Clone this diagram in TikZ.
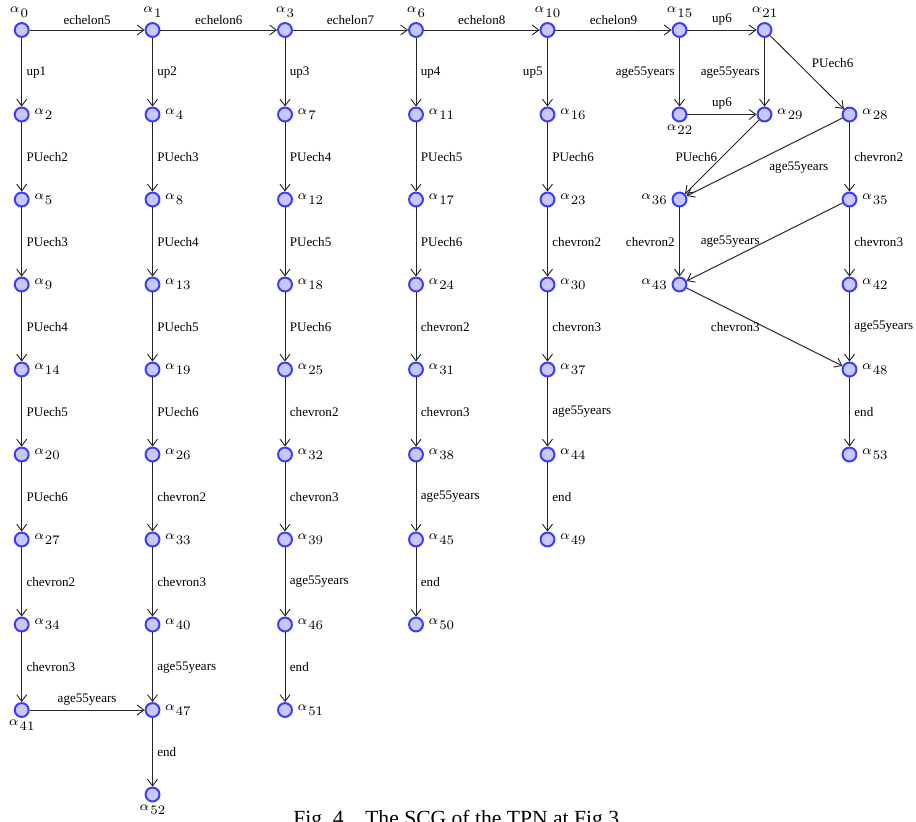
\documentclass[tikz,border=0pt]{standalone}
\usepackage{graphicx}
\usepackage{fontspec}
\newfontfamily\tnr{Liberation Serif}
\usetikzlibrary{arrows.meta}
\newcommand\al[1]{\scalebox{1.4}{\fontsize{7}{8}\selectfont\raisebox{2.6pt}{$\alpha$}\kern0.5pt$#1$}}
\definecolor{nodeline}{RGB}{60,60,255}
\definecolor{nodefill}{RGB}{200,200,255}
\tikzset{
  st/.style={circle, draw=nodeline, fill=nodefill, line width=1.5pt, minimum size=10.4pt, inner sep=0pt},
  lab/.style={font=\tnr\fontsize{9.8}{11}\selectfont},
  arr/.style={-{Straight Barb[length=5pt,width=7.5pt]}, line width=0.7pt, draw=black!85},
}
\begin{document}
\begin{tikzpicture}[x=0.75pt,y=-0.75pt]
\useasboundingbox (0,0) rectangle (916,821);
\def\cA{21.7}\def\cB{152.5}\def\cC{285}\def\cD{416}\def\cE{547.5}\def\cF{679.5}\def\cG{764.5}\def\cH{849.5}
\def\rA{30}\def\rB{114.5}\def\rC{199.5}\def\rD{284.5}\def\rE{369.5}\def\rF{454.5}\def\rG{539.5}\def\rH{624.5}\def\rI{710}\def\rJ{794.5}
% column 0
\node[st,label={[xshift=-2pt]above:{\al{0}}}] (a0) at (\cA,\rA) {};
\node[st,label=right:{\al{2}}] (a2) at (\cA,\rB) {};
\node[st,label=right:{\al{5}}] (a5) at (\cA,\rC) {};
\node[st,label=right:{\al{9}}] (a9) at (\cA,\rD) {};
\node[st,label=right:{\al{14}}] (a14) at (\cA,\rE) {};
\node[st,label=right:{\al{20}}] (a20) at (\cA,\rF) {};
\node[st,label=right:{\al{27}}] (a27) at (\cA,\rG) {};
\node[st,label=right:{\al{34}}] (a34) at (\cA,\rH) {};
\node[st,label={[label distance=-2pt]below:{\al{41}}}] (a41) at (\cA,\rI) {};
% column 1
\node[st,label=above:{\al{1}}] (a1) at (\cB,\rA) {};
\node[st,label=right:{\al{4}}] (a4) at (\cB,\rB) {};
\node[st,label=right:{\al{8}}] (a8) at (\cB,\rC) {};
\node[st,label=right:{\al{13}}] (a13) at (\cB,\rD) {};
\node[st,label=right:{\al{19}}] (a19) at (\cB,\rE) {};
\node[st,label=right:{\al{26}}] (a26) at (\cB,\rF) {};
\node[st,label=right:{\al{33}}] (a33) at (\cB,\rG) {};
\node[st,label=right:{\al{40}}] (a40) at (\cB,\rH) {};
\node[st,label=right:{\al{47}}] (a47) at (\cB,\rI) {};
\node[st,label={[label distance=-2pt]below:{\al{52}}}] (a52) at (\cB,\rJ) {};
% column 2
\node[st,label=above:{\al{3}}] (a3) at (\cC,\rA) {};
\node[st,label=right:{\al{7}}] (a7) at (\cC,\rB) {};
\node[st,label=right:{\al{12}}] (a12) at (\cC,\rC) {};
\node[st,label=right:{\al{18}}] (a18) at (\cC,\rD) {};
\node[st,label=right:{\al{25}}] (a25) at (\cC,\rE) {};
\node[st,label=right:{\al{32}}] (a32) at (\cC,\rF) {};
\node[st,label=right:{\al{39}}] (a39) at (\cC,\rG) {};
\node[st,label=right:{\al{46}}] (a46) at (\cC,\rH) {};
\node[st,label=right:{\al{51}}] (a51) at (\cC,\rI) {};
% column 3
\node[st,label=above:{\al{6}}] (a6) at (\cD,\rA) {};
\node[st,label=right:{\al{11}}] (a11) at (\cD,\rB) {};
\node[st,label=right:{\al{17}}] (a17) at (\cD,\rC) {};
\node[st,label=right:{\al{24}}] (a24) at (\cD,\rD) {};
\node[st,label=right:{\al{31}}] (a31) at (\cD,\rE) {};
\node[st,label=right:{\al{38}}] (a38) at (\cD,\rF) {};
\node[st,label=right:{\al{45}}] (a45) at (\cD,\rG) {};
\node[st,label=right:{\al{50}}] (a50) at (\cD,\rH) {};
% column 4
\node[st,label=above:{\al{10}}] (a10) at (\cE,\rA) {};
\node[st,label=right:{\al{16}}] (a16) at (\cE,\rB) {};
\node[st,label=right:{\al{23}}] (a23) at (\cE,\rC) {};
\node[st,label=right:{\al{30}}] (a30) at (\cE,\rD) {};
\node[st,label=right:{\al{37}}] (a37) at (\cE,\rE) {};
\node[st,label=right:{\al{44}}] (a44) at (\cE,\rF) {};
\node[st,label=right:{\al{49}}] (a49) at (\cE,\rG) {};
% right part
\node[st,label=above:{\al{15}}] (a15) at (\cF,\rA) {};
\node[st,label={[label distance=-2pt]below:{\al{22}}}] (a22) at (\cF,\rB) {};
\node[st,label=left:{\al{36}}] (a36) at (\cF,\rC) {};
\node[st,label=left:{\al{43}}] (a43) at (\cF,\rD) {};
\node[st,label=above:{\al{21}}] (a21) at (\cG,\rA) {};
\node[st,label=right:{\al{29}}] (a29) at (\cG,\rB) {};
\node[st,label=right:{\al{28}}] (a28) at (\cH,\rB) {};
\node[st,label=right:{\al{35}}] (a35) at (\cH,\rC) {};
\node[st,label=right:{\al{42}}] (a42) at (\cH,\rD) {};
\node[st,label=right:{\al{48}}] (a48) at (\cH,\rE) {};
\node[st,label=right:{\al{53}}] (a53) at (\cH,\rF) {};
% top row
\draw[arr] (a0) -- node[midway,above,lab]{echelon5} (a1);
\draw[arr] (a1) -- node[midway,above,lab]{echelon6} (a3);
\draw[arr] (a3) -- node[midway,above,lab]{echelon7} (a6);
\draw[arr] (a6) -- node[midway,above,lab]{echelon8} (a10);
\draw[arr] (a10) -- node[midway,above,lab]{echelon9} (a15);
\draw[arr] (a15) -- node[midway,above,lab]{up6} (a21);
% col 0
\draw[arr] (a0) -- node[midway,right,lab]{up1} (a2);
\draw[arr] (a2) -- node[midway,right,lab]{PUech2} (a5);
\draw[arr] (a5) -- node[midway,right,lab]{PUech3} (a9);
\draw[arr] (a9) -- node[midway,right,lab]{PUech4} (a14);
\draw[arr] (a14) -- node[midway,right,lab]{PUech5} (a20);
\draw[arr] (a20) -- node[midway,right,lab]{PUech6} (a27);
\draw[arr] (a27) -- node[midway,right,lab]{chevron2} (a34);
\draw[arr] (a34) -- node[midway,right,lab]{chevron3} (a41);
\draw[arr] (a41) -- node[midway,above,lab]{age55years} (a47);
% col 1
\draw[arr] (a1) -- node[midway,right,lab]{up2} (a4);
\draw[arr] (a4) -- node[midway,right,lab]{PUech3} (a8);
\draw[arr] (a8) -- node[midway,right,lab]{PUech4} (a13);
\draw[arr] (a13) -- node[midway,right,lab]{PUech5} (a19);
\draw[arr] (a19) -- node[midway,right,lab]{PUech6} (a26);
\draw[arr] (a26) -- node[midway,right,lab]{chevron2} (a33);
\draw[arr] (a33) -- node[midway,right,lab]{chevron3} (a40);
\draw[arr] (a40) -- node[midway,right,lab]{age55years} (a47);
\draw[arr] (a47) -- node[midway,right,lab]{end} (a52);
% col 2
\draw[arr] (a3) -- node[midway,right,lab]{up3} (a7);
\draw[arr] (a7) -- node[midway,right,lab]{PUech4} (a12);
\draw[arr] (a12) -- node[midway,right,lab]{PUech5} (a18);
\draw[arr] (a18) -- node[midway,right,lab]{PUech6} (a25);
\draw[arr] (a25) -- node[midway,right,lab]{chevron2} (a32);
\draw[arr] (a32) -- node[midway,right,lab]{chevron3} (a39);
\draw[arr] (a39) -- node[midway,right,lab]{age55years} (a46);
\draw[arr] (a46) -- node[midway,right,lab]{end} (a51);
% col 3
\draw[arr] (a6) -- node[midway,right,lab]{up4} (a11);
\draw[arr] (a11) -- node[midway,right,lab]{PUech5} (a17);
\draw[arr] (a17) -- node[midway,right,lab]{PUech6} (a24);
\draw[arr] (a24) -- node[midway,right,lab]{chevron2} (a31);
\draw[arr] (a31) -- node[midway,right,lab]{chevron3} (a38);
\draw[arr] (a38) -- node[midway,right,lab]{age55years} (a45);
\draw[arr] (a45) -- node[midway,right,lab]{end} (a50);
% col 4
\draw[arr] (a10) -- node[midway,left,lab]{up5} (a16);
\draw[arr] (a16) -- node[midway,right,lab]{PUech6} (a23);
\draw[arr] (a23) -- node[midway,right,lab]{chevron2} (a30);
\draw[arr] (a30) -- node[midway,right,lab]{chevron3} (a37);
\draw[arr] (a37) -- node[midway,right,lab]{age55years} (a44);
\draw[arr] (a44) -- node[midway,right,lab]{end} (a49);
% right part
\draw[arr] (a15) -- node[midway,left,lab]{age55years} (a22);
\draw[arr] (a21) -- node[midway,left,lab]{age55years} (a29);
\draw[arr] (a21) -- node[midway,above right,lab]{PUech6} (a28);
\draw[arr] (a22) -- node[midway,above,lab]{up6} (a29);
\draw[arr] (a29) -- node[midway,left,lab]{PUech6} (a36);
\draw[arr] (a28) -- node[midway,below right,lab]{age55years} (a36);
\draw[arr] (a28) -- node[midway,right,lab]{chevron2} (a35);
\draw[arr] (a36) -- node[midway,left,lab]{chevron2} (a43);
\draw[arr] (a35) -- node[midway,left,lab]{age55years} (a43);
\draw[arr] (a35) -- node[midway,right,lab]{chevron3} (a42);
\draw[arr] (a43) -- node[midway,left,lab]{chevron3} (a48);
\draw[arr] (a42) -- node[midway,right,lab]{age55years} (a48);
\draw[arr] (a48) -- node[midway,right,lab]{end} (a53);
% caption
\node[anchor=base west, inner sep=0pt, font=\tnr\fontsize{16.2}{19}\selectfont] (cap) at (293,825) {Fig.~4.\hspace{0.75em}The SCG of the TPN at Fig.3};
\end{tikzpicture}
\end{document}
